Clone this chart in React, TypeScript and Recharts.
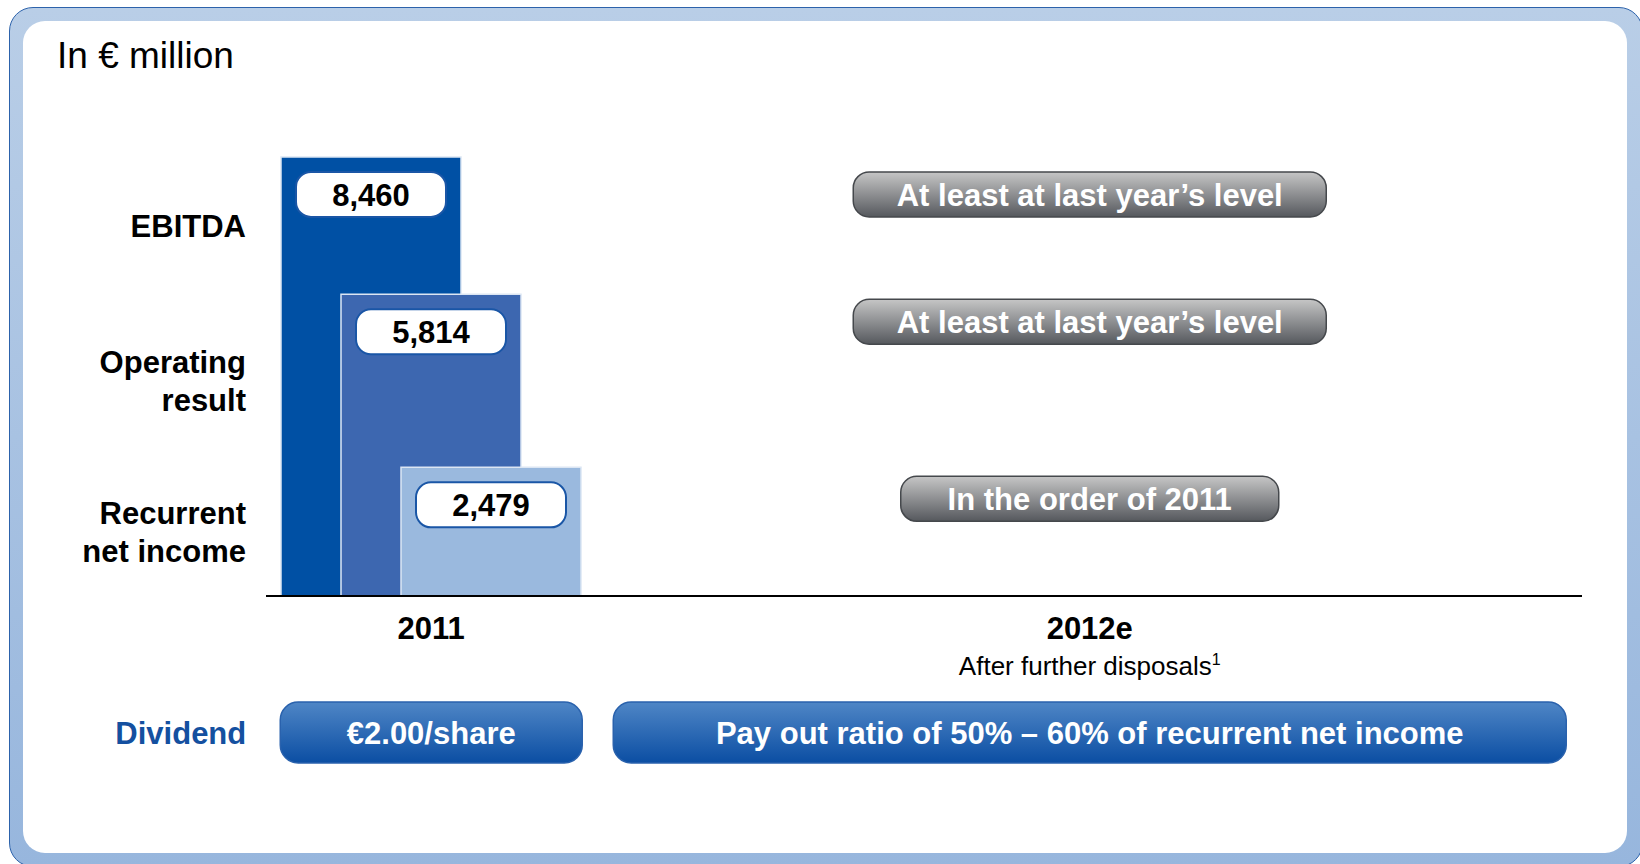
import { BarChart, Bar, XAxis, YAxis, LabelList, ReferenceDot } from "recharts";

// 2011 actuals and 2012 outlook, in € million
const years = ["2011", "2012e"];
const yearNotes = ["", "After further disposals"];
const ebitda = [8460, null];
const operatingResult = [5814, null];
const recurrentNetIncome = [2479, null];

const seriesKeys = ["ebitda", "operating", "recurrent"];
const seriesLabels = [["EBITDA"], ["Operating", "result"], ["Recurrent", "net income"]];
const outlook2012 = [
  "At least at last year’s level",
  "At least at last year’s level",
  "In the order of 2011",
];
const dividendLabel = "Dividend";
const dividends = ["€2.00/share", "Pay out ratio of 50% – 60% of recurrent net income"];

const seriesValues = [ebitda, operatingResult, recurrentNetIncome];
const data = years.map((year, i) => ({
  year,
  ebitda: ebitda[i],
  operating: operatingResult[i],
  recurrent: recurrentNetIncome[i],
}));

const W = 1640;
const H = 864;
const FONT = '"Liberation Sans", Arial, Helvetica, sans-serif';
const BAR_SIZE = 180;
const BAR_GAP = -120;
const BAR_STEP = BAR_SIZE + BAR_GAP;
const COLORS = ["#0050a4", "#3d67b0", "#9ab9de"];
const OUTLOOK_WIDTHS = [473, 473, 378];
const OUTLOOK_OFFSETS = [15, 5, 9];
const DIVIDEND_WIDTHS = [302, 953];
const LABEL_GAP = 35;
const XAXIS_HEIGHT = 200;

const makeValueLabel = (s: number) => (props: any) => {
  const vb = props.viewBox ?? props;
  const { x, y, width, height } = vb;
  if (props.value == null || props.index !== 0) return null;
  const cx = x + width / 2;
  const top = y + 15;
  const bottom = y + height;
  // the series name sits halfway between this bar's top and the next one's
  const next = seriesValues[s + 1]?.[0];
  const nextTop = next != null ? bottom - (next * height) / props.value : bottom;
  const cy = (y + nextTop) / 2;
  const lines = seriesLabels[s];
  const lx = x - s * BAR_STEP - LABEL_GAP;
  return (
    <g>
      <rect x={cx - 75} y={top} width={150} height={45} rx={15} fill="#fff" stroke="#1a56a6" strokeWidth={2} />
      <text x={cx} y={top + 34} textAnchor="middle" fontSize={31} fontWeight="bold" fill="#000">
        {Number(props.value).toLocaleString("en-US")}
      </text>
      <text x={lx} y={cy - (lines.length - 1) * 19 + 11} textAnchor="end" fontSize={31} fontWeight="bold" fill="#000">
        {lines.map((l, k) => (
          <tspan key={k} x={lx} dy={k === 0 ? 0 : 38}>
            {l}
          </tspan>
        ))}
      </text>
    </g>
  );
};

const makeOutlookPill = (s: number) => (props: any) => {
  const { cx, cy } = props;
  const w = OUTLOOK_WIDTHS[s];
  const top = cy + OUTLOOK_OFFSETS[s];
  return (
    <g>
      <rect x={cx - w / 2} y={top} width={w} height={45} rx={16} fill="url(#outlookFill)" stroke="#45484c" strokeWidth={1.5} />
      <text x={cx} y={top + 34} textAnchor="middle" fontSize={31} fontWeight="bold" fill="#fff">
        {outlook2012[s]}
      </text>
    </g>
  );
};

const YearTick = (props: any) => {
  const { x, y, payload } = props;
  const i = years.indexOf(payload.value);
  const w = DIVIDEND_WIDTHS[i];
  return (
    <g>
      <text x={x} y={y + 43} textAnchor="middle" fontSize={31} fontWeight="bold" fill="#000">
        {payload.value}
      </text>
      {yearNotes[i] && (
        <text x={x} y={y + 79} textAnchor="middle" fontSize={26} fill="#000">
          {yearNotes[i]}
          <tspan fontSize={16} dy={-10}>1</tspan>
        </text>
      )}
      <rect x={x - w / 2} y={y + 106} width={w} height={61} rx={18} fill="url(#dividendFill)" stroke="#2a62ad" strokeWidth={1.5} />
      <text x={x} y={y + 148} textAnchor="middle" fontSize={31} fontWeight="bold" fill="#fff">
        {dividends[i]}
      </text>
      {i === 0 && (
        <text x={x - 150 - LABEL_GAP} y={y + 148} textAnchor="end" fontSize={31} fontWeight="bold" fill="#1450a0">
          {dividendLabel}
        </text>
      )}
    </g>
  );
};

export default function App() {
  return (
    <div style={{ position: "absolute", left: 0, top: 0, width: W, height: H, overflow: "hidden", background: "#fff", fontFamily: FONT }}>
      <div
        style={{
          position: "absolute",
          left: 9,
          top: 7,
          width: 1632,
          height: 858,
          borderRadius: 24,
          border: "1.5px solid #2c62ab",
          background: "linear-gradient(#b9cee7, #97b6dd)",
        }}
      />
      <div style={{ position: "absolute", left: 23, top: 21, width: 1604, height: 832, borderRadius: 22, background: "#fff" }} />
      <div style={{ position: "absolute", left: 57, top: 37, fontSize: 37, lineHeight: "37px", color: "#000" }}>In € million</div>
      <svg width={0} height={0} style={{ position: "absolute" }}>
        <defs>
          <linearGradient id="outlookFill" x1="0" y1="0" x2="0" y2="1">
            <stop offset="0%" stopColor="#c6c6c6" />
            <stop offset="100%" stopColor="#55585d" />
          </linearGradient>
          <linearGradient id="dividendFill" x1="0" y1="0" x2="0" y2="1">
            <stop offset="0%" stopColor="#4f86c6" />
            <stop offset="100%" stopColor="#0b4ea3" />
          </linearGradient>
        </defs>
      </svg>
      <div style={{ position: "absolute", left: 0, top: 0 }}>
        <BarChart
          width={W}
          height={H}
          data={data}
          margin={{ top: 77, right: 58, bottom: H - 596 - XAXIS_HEIGHT, left: 266 }}
          barSize={BAR_SIZE}
          barGap={BAR_GAP}
        >
          <XAxis
            dataKey="year"
            height={XAXIS_HEIGHT}
            interval={0}
            tickLine={false}
            tickSize={0}
            tickMargin={0}
            axisLine={{ stroke: "#000", strokeWidth: 2 }}
            padding={{ left: -164, right: 163 }}
            tick={<YearTick />}
          />
          <YAxis hide domain={[0, 10000]} />
          {seriesKeys.map((key, s) => (
            <Bar key={key} dataKey={key} fill={COLORS[s]} stroke="#dce6f3" strokeWidth={1.5} isAnimationActive={false}>
              <LabelList dataKey={key} content={makeValueLabel(s)} />
            </Bar>
          ))}
          {seriesValues.map((values, s) => (
            <ReferenceDot key={s} x="2012e" y={values[0] as number} shape={makeOutlookPill(s)} />
          ))}
        </BarChart>
      </div>
    </div>
  );
}
